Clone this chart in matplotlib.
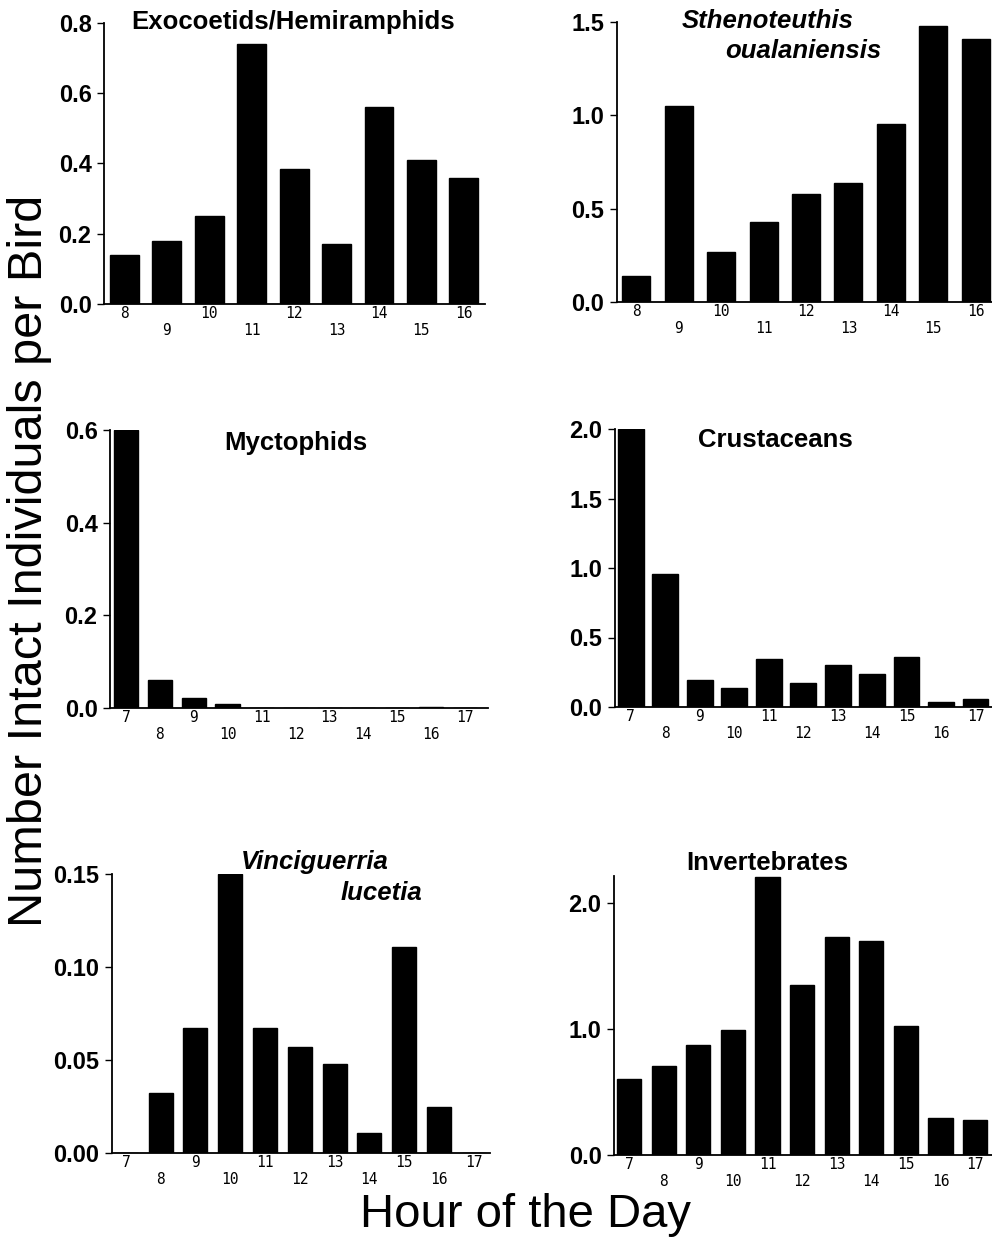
import matplotlib
matplotlib.use("Agg")
import matplotlib.pyplot as plt
from matplotlib.ticker import FormatStrFormatter

plt.rcParams['font.family'] = ['Liberation Sans', 'DejaVu Sans']

W, H = 992, 1238

# hours sampled in each panel
hours_short = [8, 9, 10, 11, 12, 13, 14, 15, 16]
hours_long = [7, 8, 9, 10, 11, 12, 13, 14, 15, 16, 17]

# mean number of intact prey items per bird
exocoetids = [0.14, 0.18, 0.25, 0.74, 0.385, 0.17, 0.56, 0.41, 0.36]
sthenoteuthis = [0.14, 1.05, 0.27, 0.43, 0.58, 0.64, 0.955, 1.48, 1.41]
myctophids = [0.60, 0.06, 0.022, 0.009, 0, 0, 0, 0, 0, 0.002, 0]
crustaceans = [2.0, 0.96, 0.195, 0.14, 0.345, 0.17, 0.305, 0.235, 0.36, 0.036, 0.055]
vinciguerria = [0, 0.032, 0.067, 0.15, 0.067, 0.057, 0.048, 0.011, 0.111, 0.025, 0]
invertebrates = [0.60, 0.71, 0.875, 0.99, 2.21, 1.35, 1.735, 1.70, 1.025, 0.295, 0.28]


def px_rect(left, right, top, bottom):
    return [left / W, 1 - bottom / H, (right - left) / W, (bottom - top) / H]


def px_text(fig, x, y, s, style='normal'):
    fig.text(x / W, 1 - y / H, s, ha='center', va='baseline',
             fontsize=18.5, fontweight='bold', fontstyle=style)


# (hours, values, axes box in px, xlim, ylim, yticks, tick format, bar width)
panels = [
    (hours_short, exocoetids, (104, 485, 23, 304), (7.52, 16.5), (0, 0.8),
     [0, 0.2, 0.4, 0.6, 0.8], '%.1f', 0.68),
    (hours_short, sthenoteuthis, (617, 992, 22, 302), (7.55, 16.38), (0, 1.5),
     [0, 0.5, 1.0, 1.5], '%.1f', 0.66),
    (hours_long, myctophids, (110, 488, 430, 708), (6.53, 17.68), (0, 0.6),
     [0, 0.2, 0.4, 0.6], '%.1f', 0.72),
    (hours_long, crustaceans, (615, 992, 429, 707), (6.54, 17.48), (0, 2.0),
     [0, 0.5, 1.0, 1.5, 2.0], '%.1f', 0.75),
    (hours_long, vinciguerria, (112, 490, 874, 1153), (6.6, 17.47), (0, 0.15),
     [0, 0.05, 0.10, 0.15], '%.2f', 0.69),
    (hours_long, invertebrates, (614, 992, 876, 1155), (6.56, 17.49), (0, 2.217),
     [0, 1.0, 2.0], '%.1f', 0.70),
]

fig = plt.figure(figsize=(W / 100, H / 100), dpi=100)

for hours, vals, box, xlim, ylim, yticks, fmt, bw in panels:
    ax = fig.add_axes(px_rect(*box))
    ax.bar(hours, vals, width=bw, color='black', edgecolor='black')
    ax.set_xlim(*xlim)
    ax.set_ylim(*ylim)
    for side in ('top', 'right'):
        ax.spines[side].set_visible(False)
    for side in ('left', 'bottom'):
        ax.spines[side].set_linewidth(1.3)
    ax.set_yticks(yticks)
    ax.yaxis.set_major_formatter(FormatStrFormatter(fmt))
    ax.tick_params(axis='y', length=5, width=1, pad=4, labelsize=17)
    for lab in ax.get_yticklabels():
        lab.set_fontweight('bold')
    ax.set_xticks(hours)
    ax.set_xticklabels([str(h) for h in hours], family='DejaVu Sans Mono',
                       fontsize=10.5)
    ax.tick_params(axis='x', length=0)
    # stagger the hour labels on two rows
    for i, tick in enumerate(ax.xaxis.get_major_ticks()):
        tick.set_pad(1.5 if i % 2 == 0 else 13.5)

px_text(fig, 293, 29, 'Exocoetids/Hemiramphids')
px_text(fig, 768, 28, 'Sthenoteuthis', 'italic')
px_text(fig, 803, 58, 'oualaniensis', 'italic')
px_text(fig, 296, 450, 'Myctophids')
px_text(fig, 775, 447, 'Crustaceans')
px_text(fig, 315, 869, 'Vinciguerria', 'italic')
px_text(fig, 381, 900, 'lucetia', 'italic')
px_text(fig, 767, 870, 'Invertebrates')

fig.text(30 / W, 1 - 561 / H, 'Number Intact Individuals per Bird',
         rotation=90, ha='center', va='center', fontsize=35)
fig.text(525 / W, 1 - 1227 / H, 'Hour of the Day',
         ha='center', va='baseline', fontsize=34)

fig.savefig('out.png', dpi=100)
